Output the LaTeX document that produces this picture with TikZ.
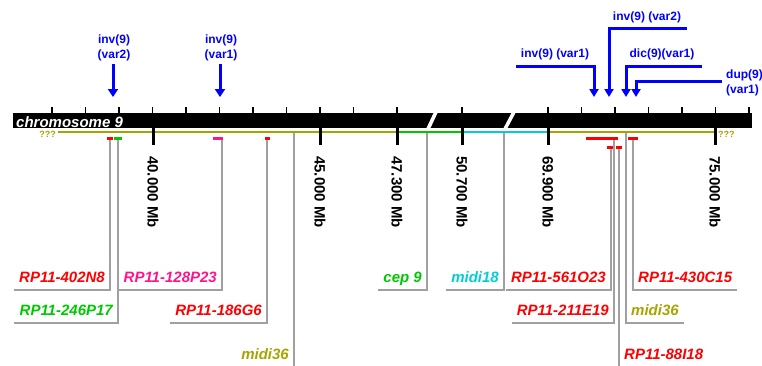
\documentclass[tikz,border=0pt]{standalone}
\usepackage{fontspec}
\setmainfont{Liberation Sans}
\usetikzlibrary{arrows.meta}
\definecolor{probered}{RGB}{255,0,0}
\definecolor{probegreen}{RGB}{0,200,0}
\definecolor{probepink}{RGB}{255,20,140}
\definecolor{probecyan}{RGB}{0,205,215}
\definecolor{probeolive}{RGB}{165,165,0}
\definecolor{leadergray}{RGB}{160,160,160}
\definecolor{eventblue}{RGB}{0,0,255}
\begin{document}
\begin{tikzpicture}[x=1pt,y=-1pt,
    leader/.style={draw=leadergray,line width=1.4pt},
    probelabel/.style={font=\fontsize{15}{17}\selectfont\bfseries\itshape,
      inner xsep=5pt,inner ysep=7pt,text depth=0pt},
    mblabel/.style={font=\fontsize{15}{16}\selectfont\bfseries,rotate=-90,
      anchor=west,inner sep=0pt},
    eventlabel/.style={text=eventblue,font=\fontsize{12}{15}\selectfont\bfseries,
      inner sep=1pt},
    eventarrow/.style={draw=eventblue,line width=3pt,
      -{Triangle[width=10pt,length=8pt]}},
    unknown/.style={text=probeolive,font=\fontsize{9}{10}\selectfont\bfseries,
      inner sep=1pt}]
  \useasboundingbox (0,0) rectangle (762,365);
  \clip (0,0) rectangle (762,365);

  % Chromosome bar with breaks
  \fill (13,113) rectangle (752,128);
  \fill[white] (426,129) -- (430,129) -- (438,112) -- (434,112) -- cycle;
  \fill[white] (503,129) -- (507,129) -- (516,112) -- (512,112) -- cycle;
  \node[anchor=base west,text=white,inner sep=0pt,
    font=\fontsize{15}{17}\selectfont\bfseries\itshape] (chr) at (16,127) {chromosome 9};

  % Small ticks on top
  \foreach \x in {52,85.5,119,152.5,186,219.5,253,286.5,320,353.5,397,462,548,581.5,615,648.5,682,715.5,749}
    \draw[line width=1.5pt] (\x,107) -- (\x,113);

  % Coloured track under the bar
  \draw[probeolive,line width=2.5pt] (58,132) -- (397,132);
  \draw[probegreen,line width=2.5pt] (397,132) -- (462,132);
  \draw[probecyan,line width=2.5pt] (462,132) -- (548,132);
  \draw[probeolive,line width=2.5pt] (548,132) -- (715,132);
  \node[unknown,anchor=east] (qleft) at (57,134) {???};
  \node[unknown,anchor=west] (qright) at (717,134) {???};

  % Positions in Mb
  \foreach \x/\mb in {153/40.000,320/45.000,397/47.300,462/50.700,548/69.900,715/75.000} {
    \draw[line width=3pt] (\x,128) -- (\x,145);
    \node[mblabel] (mb\x) at (\x,156) {\mb\ Mb};
  }

  % Probe positions
  \coordinate (p402) at (110,139);
  \coordinate (p246) at (118,139);
  \coordinate (p128) at (222,139);
  \coordinate (p186) at (267,139);
  \coordinate (pmidiA) at (294,133);
  \coordinate (pcep) at (427,133);
  \coordinate (pmidi18) at (504,133);
  \coordinate (p561) at (611,148);
  \coordinate (p211) at (614,139);
  \coordinate (p88) at (619,148);
  \coordinate (pmidiB) at (626,133);
  \coordinate (p430) at (633,139);

  % Probe labels
  \node[probelabel,text=probered,anchor=south east] (l402) at (110,290) {RP11-402N8};
  \node[probelabel,text=probegreen,anchor=south east] (l246) at (118,323) {RP11-246P17};
  \node[probelabel,text=probepink,anchor=south east] (l128) at (222,290) {RP11-128P23};
  \node[probelabel,text=probered,anchor=south east] (l186) at (267,323) {RP11-186G6};
  \node[probelabel,text=probeolive,anchor=south east] (lmidiA) at (294,367) {midi36};
  \node[probelabel,text=probegreen,anchor=south east] (lcep) at (427,290) {cep 9};
  \node[probelabel,text=probecyan,anchor=south east] (lmidi18) at (504,290) {midi18};
  \node[probelabel,text=probered,anchor=south east] (l561) at (611,290) {RP11-561O23};
  \node[probelabel,text=probered,anchor=south east] (l211) at (614,323) {RP11-211E19};
  \node[probelabel,text=probeolive,anchor=south west] (lmidiB) at (626,323) {midi36};
  \node[probelabel,text=probered,anchor=south west] (l430) at (633,290) {RP11-430C15};
  \node[probelabel,text=probered,anchor=south west] (l88) at (619,367) {RP11-88I18};

  % Leaders
  \draw[leader] (p402) |- (l402.south west);
  \draw[leader] (p246) |- (l246.south west);
  \draw[leader] (p128) |- (l128.south west);
  \draw[leader] (p186) |- (l186.south west);
  \draw[leader] (pmidiA) |- (lmidiA.south west);
  \draw[leader] (pcep) |- (lcep.south west);
  \draw[leader] (pmidi18) |- (lmidi18.south west);
  \draw[leader] (p561) |- (l561.south west);
  \draw[leader] (p211) |- (l211.south west);
  \draw[leader] (p88) |- (l88.south east);
  \draw[leader] (pmidiB) |- (lmidiB.south east);
  \draw[leader] (p430) |- (l430.south east);

  % Probe bars
  \fill[probered] (107,137) rectangle (113,140);
  \fill[probegreen] (114,137) rectangle (122,140);
  \fill[probepink] (213,137) rectangle (223,140);
  \fill[probered] (265,137) rectangle (270,140);
  \fill[probered] (586,137) rectangle (618,140);
  \fill[probered] (607,146) rectangle (613,149);
  \fill[probered] (616,146) rectangle (622,149);
  \fill[probered] (628,137) rectangle (638,140);

  % Rearrangements, left
  \node[eventlabel,align=center,anchor=south] (invA) at (114,62) {inv(9)\\(var2)};
  \node[eventlabel,align=center,anchor=south] (invB) at (221,62) {inv(9)\\(var1)};
  \coordinate (tA) at (113,97);
  \coordinate (tB) at (220,97);
  \draw[eventarrow] (invA.south -| tA) ++(0,2) -- (tA);
  \draw[eventarrow] (invB.south -| tB) ++(0,2) -- (tB);

  % Rearrangements, right
  \coordinate (sC) at (516,66);  \coordinate (tC) at (594,97);
  \coordinate (sD) at (687,28);  \coordinate (tD) at (609,97);
  \coordinate (sE) at (702,66);  \coordinate (tE) at (626,97);
  \coordinate (tF) at (636,97);
  \node[eventlabel,anchor=south] (invC) at (555,61) {inv(9) (var1)};
  \node[eventlabel,anchor=south] (invD) at (647,24) {inv(9) (var2)};
  \node[eventlabel,anchor=south] (dicE) at (662,61) {dic(9)(var1)};
  \node[eventlabel,align=left,anchor=west,inner xsep=4pt] (dupF) at (722,83) {dup(9)\\(var1)};
  \draw[eventarrow,-{Triangle[width=9pt,length=8pt]}] (sC) -| (tC);
  \draw[eventarrow,-{Triangle[width=9pt,length=8pt]}] (sD) -| (tD);
  \draw[eventarrow,-{Triangle[width=9pt,length=8pt]}] (sE) -| (tE);
  \draw[eventarrow,-{Triangle[width=9pt,length=8pt]}] (dupF.west |- 0,81) -| (tF);
\end{tikzpicture}
\end{document}
